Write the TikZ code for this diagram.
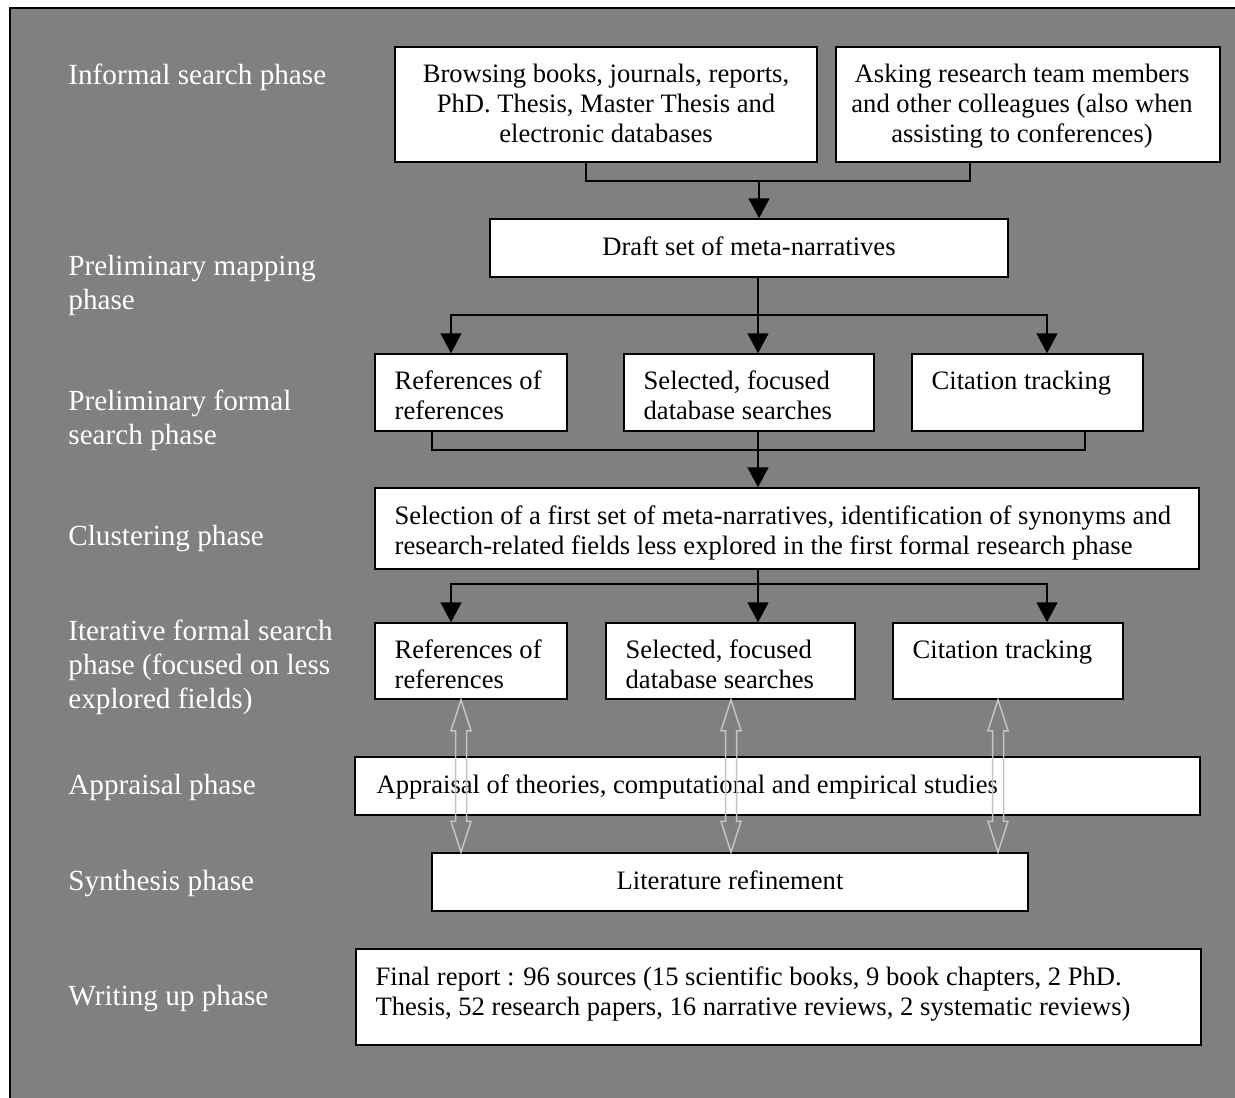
\documentclass[tikz,border=0pt]{standalone}
\usepackage{fontspec}
\setmainfont{Liberation Serif}
\usetikzlibrary{arrows.meta,calc,fit}
\definecolor{bgGray}{HTML}{808080}
\definecolor{dblgray}{HTML}{C4C4C4}
\newcommand\dblarr[2]{%
  \draw[dbl] (#1) -- ++(10,31) -- ++(-4.5,0) -- ($(#2)+(5.5,-31)$) -- ++(4.5,0) -- (#2)
    -- ++(-10,-31) -- ++(4.5,0) -- ($(#1)+(-5.5,31)$) -- ++(-4.5,0) -- cycle;}
\begin{document}
\begin{tikzpicture}[x=0.5pt,y=-0.5pt,
  box/.style={draw=black, fill=white, line width=0.75pt, inner sep=0pt},
  btxt/.style={inner sep=0pt, font=\fontsize{13.3}{15}\selectfont, text=black},
  ltxt/.style={inner sep=0pt, font=\fontsize{14.6}{17}\selectfont, text=white, align=left, anchor=north west},
  ltext/.style={btxt, align=left, anchor=north west},
  ctext/.style={btxt, align=center, anchor=north},
  conn/.style={line width=0.75pt, draw=black},
  arr/.style={conn, -{Triangle[length=10pt,width=10.5pt]}},
  dbl/.style={draw=dblgray, line width=0.75pt, line join=miter}
]
\useasboundingbox (0,0) rectangle (1235,1097);
\fill[white] (0,0) rectangle (1235,1097);
\fill[bgGray] (10,8) rectangle (1240,1102);
\draw[line width=0.75pt] (10,1102) -- (10,8) -- (1240,8);

% phase labels
\node[ltxt] (l1) at (68,60) {\strut Informal search phase};
\node[ltxt] (l2) at (68,251) {\strut Preliminary mapping\\phase};
\node[ltxt] (l3) at (68,386) {\strut Preliminary formal\\search phase};
\node[ltxt] (l4) at (68,521) {\strut Clustering phase};
\node[ltxt] (l5) at (68,616) {\strut Iterative formal search\\phase (focused on less\\explored fields)};
\node[ltxt] (l6) at (68,770) {\strut Appraisal phase};
\node[ltxt] (l7) at (68,866) {\strut Synthesis phase};
\node[ltxt] (l8) at (68,981) {\strut Writing up phase};

% boxes
\node[box, fit={(395,47) (817,162)}] (b1) {};
\node[box, fit={(836,47) (1220,162)}] (b2) {};
\node[box, fit={(490,219) (1008,277)}] (draft) {};
\node[box, fit={(375,354) (567,431)}] (rr1) {};
\node[box, fit={(624,354) (874,431)}] (ss1) {};
\node[box, fit={(912,354) (1143,431)}] (ct1) {};
\node[box, fit={(375,488) (1199,569)}] (clu) {};
\node[box, fit={(375,623) (567,699)}] (rr2) {};
\node[box, fit={(606,623) (855,699)}] (ss2) {};
\node[box, fit={(893,623) (1123,699)}] (ct2) {};
\node[box, fit={(355,757) (1200,815)}] (app) {};
\node[box, fit={(432,853) (1028,911)}] (lit) {};
\node[box, fit={(356,949) (1201,1045)}] (fin) {};

% box texts
\node[ctext] (b1t) at ([yshift=-7.5pt]b1.north) {\strut Browsing books, journals, reports,\\PhD. Thesis, Master Thesis and\\electronic databases};
\node[ctext] (b2t) at ([xshift=-3pt,yshift=-7.5pt]b2.north) {\strut Asking research team members\\and other colleagues (also when\\assisting to conferences)};
\node[ctext] (draftt) at ([yshift=-7.75pt]draft.north) {\strut Draft set of meta-narratives};
\node[ltext] (rr1t) at ([xshift=10pt,yshift=-7.5pt]rr1.north west) {\strut References of\\references};
\node[ltext] (ss1t) at ([xshift=10pt,yshift=-7.5pt]ss1.north west) {\strut Selected, focused\\database searches};
\node[ltext] (ct1t) at ([xshift=10pt,yshift=-7.5pt]ct1.north west) {\strut Citation tracking};
\node[ltext] (clut) at ([xshift=10pt,yshift=-7.75pt]clu.north west) {\strut Selection of a first set of meta-narratives, identification of synonyms and\\research-related fields less explored in the first formal research phase};
\node[ltext] (rr2t) at ([xshift=10pt,yshift=-7.5pt]rr2.north west) {\strut References of\\references};
\node[ltext] (ss2t) at ([xshift=10pt,yshift=-7.5pt]ss2.north west) {\strut Selected, focused\\database searches};
\node[ltext] (ct2t) at ([xshift=10pt,yshift=-7.5pt]ct2.north west) {\strut Citation tracking};
\node[ltext] (appt) at ([xshift=11pt,yshift=-7.75pt]app.north west) {\strut Appraisal of theories, computational and empirical studies};
\node[ctext] (litt) at ([yshift=-7.75pt]lit.north) {\strut Literature refinement};
\node[ltext] (fint) at ([xshift=10pt,yshift=-7.75pt]fin.north west) {\strut Final report : 96 sources (15 scientific books, 9 book chapters, 2 PhD.\\Thesis, 52 research papers, 16 narrative reviews, 2 systematic reviews)};

% connector columns
\coordinate (cL) at (451,0);
\coordinate (cM) at (758,0);
\coordinate (cR) at (1047,0);
\coordinate (cA) at (432,0);
\coordinate (cB) at (1085,0);

% informal -> draft
\coordinate (j1) at (759,181);
\draw[conn] ([xshift=-10pt]b1.south) |- (j1) -| ([xshift=-29pt]b2.south);
\draw[arr] (j1) -- (j1 |- draft.north);

% draft -> row 1
\coordinate (j2) at (758,315);
\draw[arr] (draft.south -| cM) -- (ss1.north -| cM);
\draw[arr] (j2) -| (rr1.north -| cL);
\draw[arr] (j2) -| (ct1.north -| cR);

% row 1 -> clustering
\coordinate (j3) at (758,450);
\draw[conn] (rr1.south -| cA) |- (j3);
\draw[conn] (ct1.south -| cB) |- (j3);
\draw[arr] (ss1.south -| cM) -- (clu.north -| cM);

% clustering -> row 2
\coordinate (j4) at (758,584);
\draw[arr] (clu.south -| cM) -- (ss2.north -| cM);
\draw[arr] (j4) -| (rr2.north -| cL);
\draw[arr] (j4) -| (ct2.north -| cR);

% double arrows
\coordinate (d1) at (461,0);
\coordinate (d2) at (731,0);
\coordinate (d3) at (998,0);
\coordinate (d1t) at (rr2.south -| d1);
\coordinate (d1b) at (lit.north -| d1);
\coordinate (d2t) at (ss2.south -| d2);
\coordinate (d2b) at (lit.north -| d2);
\coordinate (d3t) at (ct2.south -| d3);
\coordinate (d3b) at (lit.north -| d3);
\dblarr{d1t}{d1b}
\dblarr{d2t}{d2b}
\dblarr{d3t}{d3b}
\end{tikzpicture}
\end{document}
